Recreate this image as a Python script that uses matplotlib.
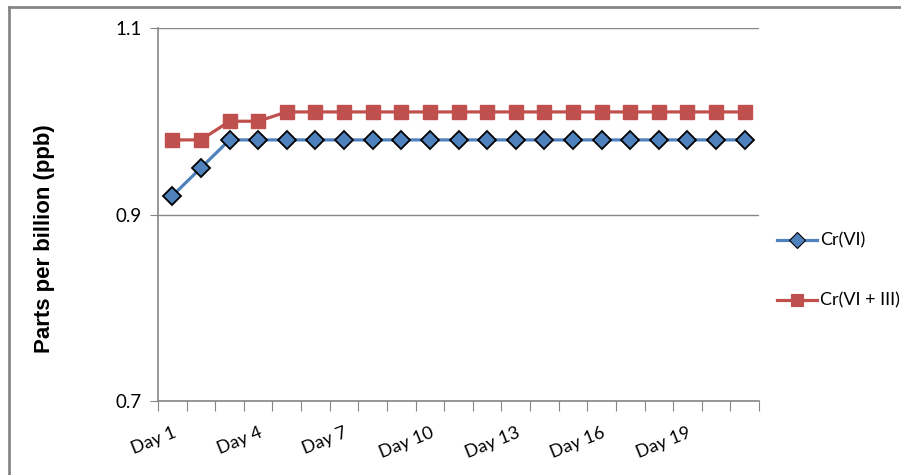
import matplotlib.pyplot as plt
from matplotlib.lines import Line2D

days = ['Day %d' % i for i in range(1, 22)]
cr6 = [0.92, 0.95, 0.98, 0.98, 0.98, 0.98, 0.98, 0.98, 0.98, 0.98, 0.98,
       0.98, 0.98, 0.98, 0.98, 0.98, 0.98, 0.98, 0.98, 0.98, 0.98]
cr6_3 = [0.98, 0.98, 1.00, 1.00, 1.01, 1.01, 1.01, 1.01, 1.01, 1.01, 1.01,
         1.01, 1.01, 1.01, 1.01, 1.01, 1.01, 1.01, 1.01, 1.01, 1.01]
labels = ['Cr(VI)', 'Cr(VI + III)']

W, H = 901, 475
fig = plt.figure(figsize=(W / 100, H / 100), dpi=100)
ax = fig.add_axes([158 / W, 1 - 401 / H, (759 - 158) / W, (401 - 28) / H])

blue = dict(color='#4F81BD', lw=2.3, marker='D', ms=9.5,
            mfc='#4F81BD', mec='black', mew=1.3)
red = dict(color='#C0504D', lw=2.3, marker='s', ms=10.5,
           mfc='#C0504D', mec='#C0504D')

x = list(range(len(days)))
ax.plot(x, cr6, zorder=3, **blue)
ax.plot(x, cr6_3, zorder=3, **red)

ax.set_xlim(-0.5, len(days) - 0.5)
ax.set_ylim(0.7, 1.1)
ax.set_yticks([0.7, 0.9, 1.1])
ax.set_yticklabels(['0.7', '0.9', '1.1'])
ax.yaxis.grid(True, color='#868686', lw=1)
ax.set_axisbelow(True)

# category boundaries as ticks, labels every 3rd day
ax.set_xticks([i - 0.5 for i in range(len(days) + 1)])
ax.set_xticklabels([])
ax.set_xticks(x[::3], minor=True)
ax.set_xticklabels(days[::3], minor=True, rotation=22, fontsize=13,
                   family='Lato', ha='right', rotation_mode='anchor')
ax.tick_params(axis='x', which='minor', length=0, pad=17)
ax.tick_params(axis='x', which='major', length=7, color='#868686')
ax.tick_params(axis='y', length=6, color='#868686', labelsize=13.5, pad=6)
for lab in ax.get_yticklabels():
    lab.set_family('Lato')

for s in ['top', 'right']:
    ax.spines[s].set_visible(False)
for s in ['left', 'bottom']:
    ax.spines[s].set_color('#868686')
    ax.spines[s].set_linewidth(1.2)

fig.text(45 / W, 1 - 239 / H, 'Parts per billion (ppb)', rotation=90,
         ha='center', va='center', fontsize=16, fontweight='bold',
         family='Liberation Sans')

# legend drawn by hand so it sits where the reference has it
for style, lab, ypx in [(blue, labels[0], 240), (red, labels[1], 300)]:
    yy = 1 - ypx / H
    fig.add_artist(Line2D([777 / W, 817 / W], [yy, yy], transform=fig.transFigure,
                          color=style['color'], lw=style['lw']))
    mk = {k: v for k, v in style.items() if k not in ('lw', 'color', 'ms', 'mew')}
    fig.add_artist(Line2D([797 / W], [yy], transform=fig.transFigure,
                          ls='none', ms=style['ms'] - 1.5, mew=0.8, **mk))
    fig.text(820 / W, yy, lab, ha='left', va='center', fontsize=13,
             family='Lato')

# outer chart border (left and top visible)
fig.add_artist(Line2D([9 / W, 9 / W], [0, 1 - 7 / H], transform=fig.transFigure,
                      color='#868686', lw=2))
fig.add_artist(Line2D([9 / W, 1], [1 - 7 / H, 1 - 7 / H], transform=fig.transFigure,
                      color='#868686', lw=2))

fig.savefig('out.png', dpi=100)
